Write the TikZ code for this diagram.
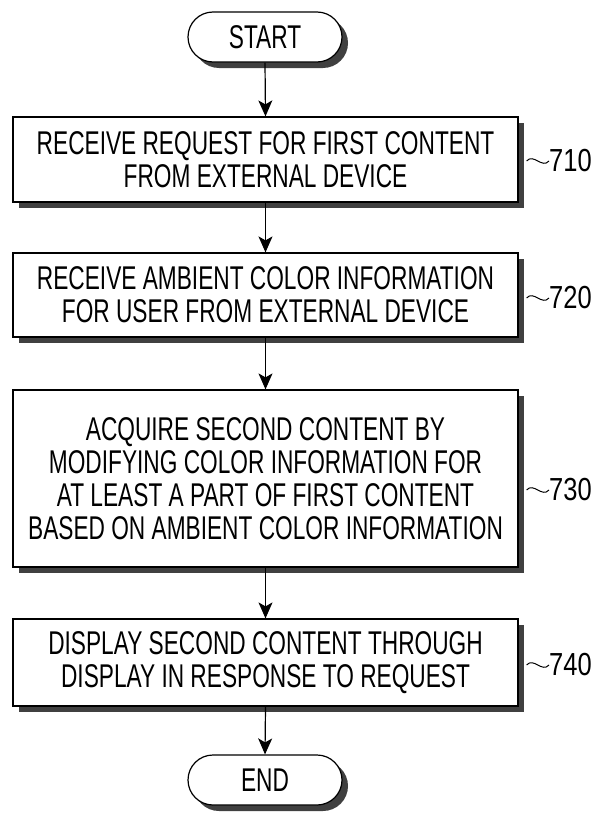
\documentclass[tikz,border=0pt]{standalone}
\usepackage{fontspec}
\setmainfont[FakeStretch=0.69]{Liberation Sans}
\newfontfamily\numfont[FakeStretch=0.8]{Liberation Sans}
\usetikzlibrary{shapes.misc,shadows,arrows.meta}
\begin{document}
\begin{tikzpicture}[x=1bp,y=-1bp,
  shade/.style={drop shadow={shadow xshift=6bp, shadow yshift=-6bp, fill=black!75, opacity=1}},
  stepbox/.style={draw, line width=1.2bp, fill=white, rectangle, shade,
    minimum width=505bp, align=center, inner sep=0pt,
    font=\fontsize{33}{33}\selectfont},
  term/.style={draw, line width=1.2bp, fill=white, rounded rectangle, shade,
    minimum width=154bp, minimum height=50bp, inner sep=0pt,
    font=\fontsize{33}{33}\selectfont},
  flow/.style={line width=1.2bp, -{Stealth[width=14bp,length=16bp,inset=4bp]}},
  reflabel/.style={font=\numfont\fontsize{32}{33}\selectfont, anchor=west, inner sep=0pt},
  tilde/.style={line width=1bp}]
\useasboundingbox (0,0) rectangle (595,815);

\node[term] (start) at (265,37) {START};
\node[stepbox, minimum height=85bp] (b710) at (265.5,159.5)
  {RECEIVE REQUEST FOR FIRST CONTENT\\FROM EXTERNAL DEVICE};
\node[stepbox, minimum height=84bp] (b720) at (265.5,295)
  {RECEIVE AMBIENT COLOR INFORMATION\\FOR USER FROM EXTERNAL DEVICE};
\node[stepbox, minimum height=177bp] (b730) at (265.5,478.5)
  {ACQUIRE SECOND CONTENT BY\\MODIFYING COLOR INFORMATION FOR\\AT LEAST A PART OF FIRST CONTENT\\BASED ON AMBIENT COLOR INFORMATION};
\node[stepbox, minimum height=87bp] (b740) at (265.5,662.5)
  {DISPLAY SECOND CONTENT THROUGH\\DISPLAY IN RESPONSE TO REQUEST};
\node[term] (end) at (265,780) {END};

\draw[flow] (start.south) -- (b710.north);
\draw[flow] (b710.south) -- (b720.north);
\draw[flow] (b720.south) -- (b730.north);
\draw[flow] (b730.south) -- (b740.north);
\draw[flow] (b740.south) -- (end.north);

\node[reflabel] (l710) at (549,161) {710};
\node[reflabel] (l720) at (549,298) {720};
\node[reflabel] (l730) at (549,490) {730};
\node[reflabel] (l740) at (549,665) {740};

\foreach \b/\l in {b710/l710,b720/l720,b730/l730,b740/l740}{
  \draw[tilde] (\b.east |- \l.west) ++(8,0) coordinate (t\l)
    .. controls +(7,-8) and +(-7,8) .. (\l.west);
}
\end{tikzpicture}
\end{document}
